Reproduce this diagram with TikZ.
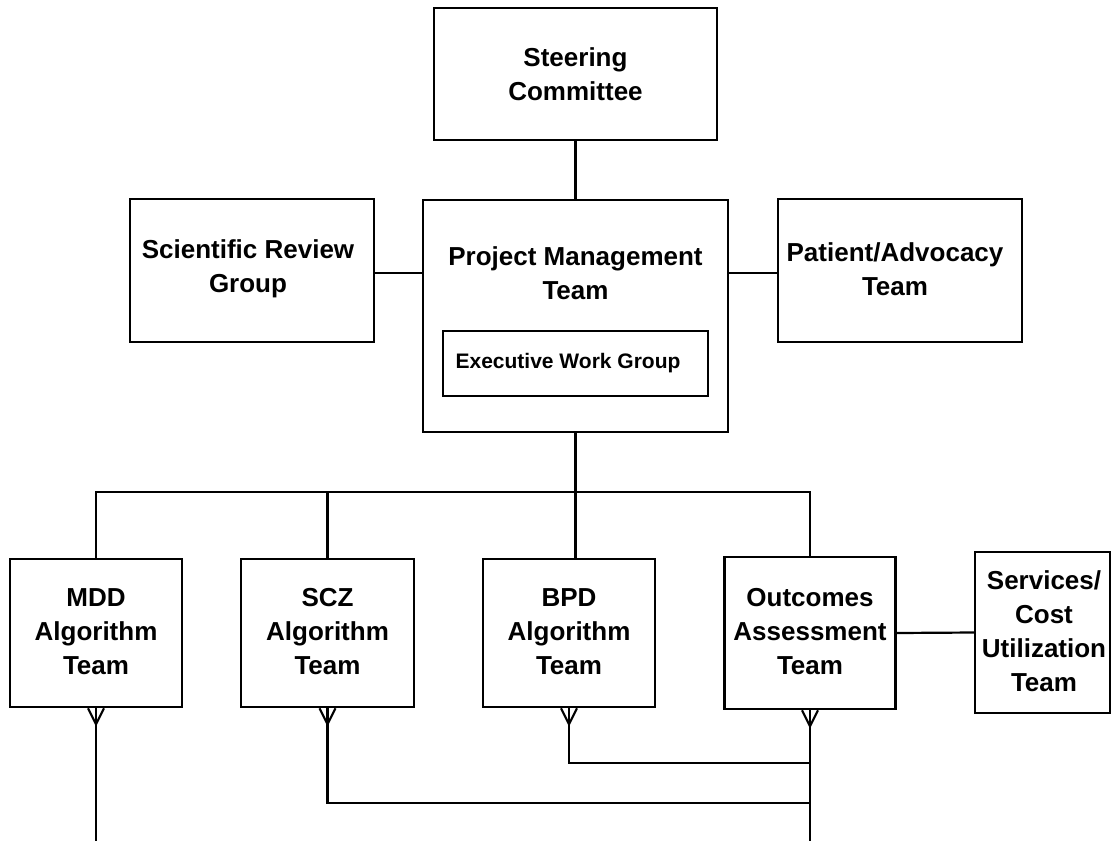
\documentclass[tikz,border=0pt]{standalone}
\usepackage{fontspec}
\setmainfont{Liberation Sans}
\begin{document}
\begin{tikzpicture}[x=1pt,y=-1pt,
  box/.style={draw=black,line width=2.5pt,fill=white,inner sep=0pt},
  lbl/.style={align=center,inner sep=0pt,font=\bfseries\fontsize{26}{34}\selectfont},
  small/.style={align=center,inner sep=0pt,font=\bfseries\fontsize{21}{26}\selectfont},
  conn/.style={draw=black,line width=2.2pt}]
\useasboundingbox (0,0) rectangle (1111,841);
% top boxes
\node[box,minimum width=283,minimum height=132] (steer) at (575.5,74) {};
\node[lbl] (steert) at (575.5,74) {Steering\\Committee};
\node[box,minimum width=305,minimum height=232] (pm) at (575.5,316) {};
\node[lbl] (pmt) at (575.5,273) {Project Management\\Team};
\node[box,minimum width=265,minimum height=65] (ewg) at (575.5,363.5) {};
\node[small] (ewgt) at (568,363.5) {Executive Work Group};
\node[box,minimum width=244,minimum height=143] (srg) at (252,270.5) {};
\node[lbl] (srgt) at (248,269) {Scientific Review\\Group};
\node[box,minimum width=244,minimum height=143] (pa) at (900,270.5) {};
\node[lbl] (pat) at (895,269) {Patient/Advocacy\\Team};
% bottom boxes
\node[box,minimum width=172,minimum height=148] (mdd) at (96,633) {};
\node[lbl] (mddt) at (96,632) {MDD\\Algorithm\\Team};
\node[box,minimum width=173,minimum height=148] (scz) at (327.5,633) {};
\node[lbl] (sczt) at (327.5,632) {SCZ\\Algorithm\\Team};
\node[box,minimum width=172,minimum height=148] (bpd) at (569,633) {};
\node[lbl] (bpdt) at (569,632) {BPD\\Algorithm\\Team};
\node[box,minimum width=171,minimum height=152] (out) at (810,633) {};
\node[lbl] (outt) at (810,632) {Outcomes\\Assessment\\Team};
\node[box,minimum width=135,minimum height=161] (serv) at (1042.5,632.5) {};
\node[lbl] (servt) at (1044,631.5) {Services/\\Cost\\Utilization\\Team};
% coordinates
\coordinate (bus) at (575.5,492);
\coordinate (mddend) at (96,841);
\coordinate (outend) at (810,841);
\coordinate (sczrow) at (327.5,803);
\coordinate (bpdrow) at (569,763);
% connectors
\draw[conn] (steer.south) -- (pm.north);
\draw[conn] (srg.east |- pmt) -- (pm.west |- pmt);
\draw[conn] (pm.east |- pmt) -- (pa.west |- pmt);
\draw[conn] (pm.south) -- (bus);
\draw[conn] (mdd.north) -- (mdd.north |- bus) -- (out.north |- bus) -- (out.north);
\draw[conn] (scz.north |- bus) -- (scz.north);
\draw[conn] (bus) -- (bus |- bpd.north);
\draw[conn] (out.east) -- (serv.west);
% crow's feet and lower lines
\draw[conn] (mdd.south) -- (mddend);
\draw[conn] ([xshift=-8pt]mdd.south) -- ([yshift=-16pt]mdd.south) -- ([xshift=8pt]mdd.south);
\draw[conn] (scz.south) -- (sczrow) -- (sczrow -| out.south);
\draw[conn] ([xshift=-8pt]scz.south) -- ([yshift=-16pt]scz.south) -- ([xshift=8pt]scz.south);
\draw[conn] (bpd.south) -- (bpdrow) -- (bpdrow -| out.south);
\draw[conn] ([xshift=-8pt]bpd.south) -- ([yshift=-16pt]bpd.south) -- ([xshift=8pt]bpd.south);
\draw[conn] (out.south) -- (outend);
\draw[conn] ([xshift=-8pt]out.south) -- ([yshift=-16pt]out.south) -- ([xshift=8pt]out.south);
\end{tikzpicture}
\end{document}
